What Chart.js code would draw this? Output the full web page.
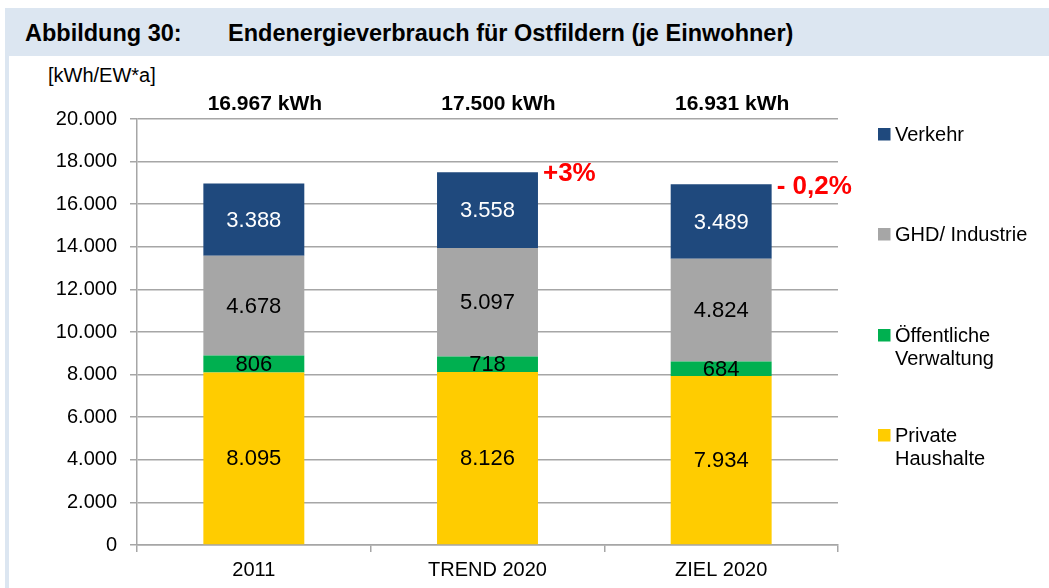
<!DOCTYPE html>
<html>
<head>
<meta charset="utf-8">
<script src="https://cdn.jsdelivr.net/npm/chart.js@4/dist/chart.umd.min.js"></script>
<style>
  html, body { margin: 0; padding: 0; background: #ffffff; }
  body { width: 1049px; height: 588px; position: relative; overflow: hidden; font-family: 'Liberation Sans', Arial, sans-serif; }
  #band { position: absolute; left: 5px; top: 8px; width: 1044px; height: 48px; background: #dce6f1; }
  #strip { position: absolute; left: 5px; top: 56px; width: 4px; height: 532px; background: #dce6f1; }
  .title { position: absolute; top: 19px; font-weight: bold; font-size: 23.5px; color: #000; white-space: nowrap; line-height: 28px; }
  #unit { position: absolute; left: 48px; top: 63px; font-size: 20px; color: #000; white-space: nowrap; line-height: 24px; }
  #c { position: absolute; left: 0; top: 0; }
</style>
</head>
<body>
<div id="band"></div>
<div id="strip"></div>
<div class="title" style="left:25px">Abbildung 30:</div>
<div class="title" style="left:228px">Endenergieverbrauch für Ostfildern (je Einwohner)</div>
<div id="unit">[kWh/EW*a]</div>
<canvas id="c" width="1049" height="588"></canvas>
<script>
const categories = ['2011', 'TREND 2020', 'ZIEL 2020'];
const privateHaushalte = [8095, 8126, 7934];
const oeffentlicheVerwaltung = [806, 718, 684];
const ghdIndustrie = [4678, 5097, 4824];
const verkehr = [3388, 3558, 3489];
const totalLabels = ['16.967 kWh', '17.500 kWh', '16.931 kWh'];
const changeLabels = ['', '+3%', '- 0,2%'];
const yMin = 0, yMax = 20000, yStep = 2000;

const FONT = "'Liberation Sans', Arial, sans-serif";
function fmt(v) { return String(v).replace(/\B(?=(\d{3})+(?!\d))/g, '.'); }

const labelPlugin = {
  id: 'labels',
  afterDatasetsDraw(chart) {
    const ctx = chart.ctx;
    ctx.save();
    ctx.textAlign = 'center';
    ctx.textBaseline = 'middle';
    ctx.font = '22px ' + FONT;
    chart.data.datasets.forEach((ds, i) => {
      const meta = chart.getDatasetMeta(i);
      meta.data.forEach((bar, j) => {
        ctx.fillStyle = ds.labelColor;
        ctx.fillText(fmt(ds.data[j]), bar.x, (bar.y + bar.base) / 2 + 1);
      });
    });
    const top = chart.getDatasetMeta(chart.data.datasets.length - 1);
    ctx.font = 'bold 21px ' + FONT;
    ctx.fillStyle = '#000';
    top.data.forEach((bar, j) => {
      ctx.fillText(totalLabels[j], bar.x + 11, 104);
    });
    ctx.font = 'bold 26px ' + FONT;
    ctx.fillStyle = '#ff0000';
    ctx.textAlign = 'left';
    top.data.forEach((bar, j) => {
      if (changeLabels[j]) ctx.fillText(changeLabels[j], bar.x + bar.width / 2 + 5, bar.y + 2);
    });
    ctx.restore();
  }
};

const legendPlugin = {
  id: 'customLegend',
  afterDraw(chart, args, opts) {
    const ctx = chart.ctx;
    ctx.save();
    ctx.font = '20px ' + FONT;
    ctx.textAlign = 'left';
    ctx.textBaseline = 'middle';
    const ds = chart.data.datasets.slice().reverse();
    ds.forEach((d, k) => {
      const y = opts.rows[k];
      ctx.fillStyle = d.backgroundColor;
      ctx.fillRect(opts.boxX, y - 6, 12.5, 12.5);
      ctx.fillStyle = '#000';
      d.legendLines.forEach((line, n) => {
        ctx.fillText(line, opts.textX, y + 1 + n * opts.lineHeight);
      });
    });
    ctx.restore();
  }
};

new Chart(document.getElementById('c'), {
  type: 'bar',
  data: {
    labels: categories,
    datasets: [
      { label: 'Private Haushalte', legendLines: ['Private', 'Haushalte'], data: privateHaushalte, backgroundColor: '#ffcc00', labelColor: '#000' },
      { label: 'Öffentliche Verwaltung', legendLines: ['Öffentliche', 'Verwaltung'], data: oeffentlicheVerwaltung, backgroundColor: '#00b050', labelColor: '#000' },
      { label: 'GHD/ Industrie', legendLines: ['GHD/ Industrie'], data: ghdIndustrie, backgroundColor: '#a6a6a6', labelColor: '#000' },
      { label: 'Verkehr', legendLines: ['Verkehr'], data: verkehr, backgroundColor: '#1f497d', labelColor: '#fff' }
    ]
  },
  options: {
    responsive: false,
    animation: false,
    devicePixelRatio: 1,
    layout: { padding: { left: 0, top: 119, right: 211, bottom: 0 } },
    datasets: { bar: { categoryPercentage: 1, barPercentage: 0.432, borderWidth: 0 } },
    plugins: {
      legend: { display: false },
      tooltip: { enabled: false },
      customLegend: { boxX: 878, textX: 895, lineHeight: 23, rows: [134, 234, 335, 435] }
    },
    scales: {
      x: {
        stacked: true,
        afterFit(s) { s.height = 43; },
        grid: { offset: true, drawOnChartArea: false, drawTicks: true, tickLength: 7, color: '#a6a6a6', lineWidth: 1.5 },
        border: { display: true, color: '#a6a6a6', width: 1.5 },
        ticks: { color: '#000', font: { family: FONT, size: 20 }, padding: 6 }
      },
      y: {
        stacked: true,
        min: yMin, max: yMax,
        afterFit(s) { s.width = 137; },
        grid: { color: '#a6a6a6', lineWidth: 1.5, drawTicks: true, tickLength: 7 },
        border: { display: true, color: '#a6a6a6', width: 1.5 },
        ticks: { stepSize: yStep, color: '#000', font: { family: FONT, size: 20 }, padding: 13, callback: v => fmt(v) }
      }
    }
  },
  plugins: [labelPlugin, legendPlugin]
});
</script>
</body>
</html>
